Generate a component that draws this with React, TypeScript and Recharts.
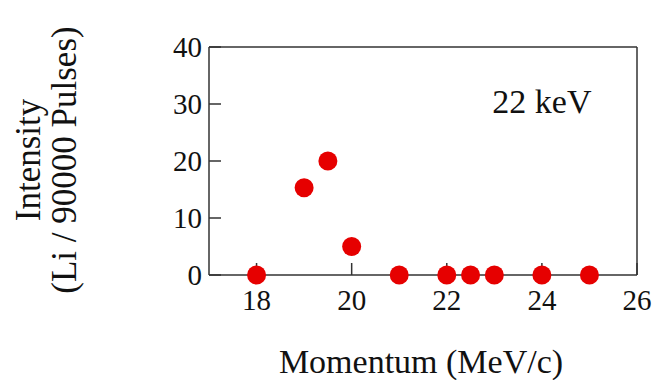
import React from "react";
import {
  ScatterChart,
  Scatter,
  XAxis,
  YAxis,
  ReferenceDot,
} from "recharts";

// momentum (MeV/c) vs intensity (Li / 90000 pulses), 22 keV run
const momentum = [18, 19, 19.5, 20, 21, 22, 22.5, 23, 24, 25];
const intensity = [0, 15.3, 20, 5, 0, 0, 0, 0, 0, 0];

const xTicks = [18, 20, 22, 24, 26];
const yTicks = [0, 10, 20, 30, 40];

const FONT = '"Liberation Serif", "Times New Roman", serif';
const AXIS = "#333";
const RED = "#e60000";

const data = momentum.map((m, i) => ({ m, v: intensity[i] }));

// inward tick marks, labels outside
const BottomTick = (p: any) => (
  <g>
    <line x1={p.x} x2={p.x} y1={p.y} y2={p.y - 12} stroke={AXIS} strokeWidth={1.5} />
    <text x={p.x} y={p.y + 35} textAnchor="middle" fontSize={29} fontFamily={FONT} fill="#111">
      {p.payload.value}
    </text>
  </g>
);

const TopTick = (p: any) => (
  <line x1={p.x} x2={p.x} y1={p.y} y2={p.y + 12} stroke={AXIS} strokeWidth={1.5} />
);

const LeftTick = (p: any) => (
  <g>
    <line x1={p.x} x2={p.x + 12} y1={p.y} y2={p.y} stroke={AXIS} strokeWidth={1.5} />
    <text
      x={p.x - 7}
      y={p.y}
      textAnchor="end"
      dominantBaseline="central"
      fontSize={29}
      fontFamily={FONT}
      fill="#111"
    >
      {p.payload.value}
    </text>
  </g>
);

const RightTick = (p: any) => (
  <line x1={p.x} x2={p.x - 12} y1={p.y} y2={p.y} stroke={AXIS} strokeWidth={1.5} />
);

export default function App() {
  return (
    <div style={{ width: 654, height: 380, background: "#fff" }}>
      <style>{`body{margin:0}`}</style>
      <ScatterChart width={654} height={380} margin={{ top: 17, right: 7, bottom: 0, left: 0 }}>
        <XAxis
          type="number"
          dataKey="m"
          domain={[17, 26]}
          ticks={xTicks}
          height={105}
          tickSize={0}
          tickMargin={0}
          tick={<BottomTick />}
          axisLine={{ stroke: AXIS, strokeWidth: 1.5 }}
          label={{
            content: () => (
              <text x={421} y={373} textAnchor="middle" fontSize={34} fontFamily={FONT} fill="#111">
                Momentum (MeV/c)
              </text>
            ),
          }}
        />
        <XAxis
          xAxisId="top"
          orientation="top"
          type="number"
          domain={[17, 26]}
          ticks={xTicks}
          height={30}
          tickSize={0}
          tickMargin={0}
          tick={<TopTick />}
          axisLine={{ stroke: AXIS, strokeWidth: 1.5 }}
        />
        <YAxis
          type="number"
          dataKey="v"
          domain={[0, 40]}
          ticks={yTicks}
          width={209}
          tickSize={0}
          tickMargin={0}
          tick={<LeftTick />}
          axisLine={{ stroke: AXIS, strokeWidth: 1.5 }}
          label={{
            content: () => (
              <text
                transform="translate(40,160) rotate(-90)"
                textAnchor="middle"
                fontSize={35}
                fontFamily={FONT}
                fill="#111"
              >
                <tspan x={0} y={0}>Intensity</tspan>
                <tspan x={0} y={36}>(Li / 90000 Pulses)</tspan>
              </text>
            ),
          }}
        />
        <YAxis
          yAxisId="right"
          orientation="right"
          type="number"
          domain={[0, 40]}
          ticks={yTicks}
          width={10}
          tickSize={0}
          tickMargin={0}
          tick={<RightTick />}
          axisLine={{ stroke: AXIS, strokeWidth: 1.5 }}
        />
        <ReferenceDot
          x={24}
          y={30}
          r={0}
          fill="none"
          stroke="none"
          label={{
            content: (p: any) => (
              <text
                x={p.viewBox.x + p.viewBox.width / 2}
                y={p.viewBox.y + p.viewBox.height / 2 + 9}
                textAnchor="middle"
                fontSize={34}
                fontFamily={FONT}
                fill="#111"
              >
                22 keV
              </text>
            ),
          }}
        />
        <Scatter
          data={data}
          isAnimationActive={false}
          zIndex={3000}
          shape={(p: any) => <circle cx={p.cx} cy={p.cy} r={9.5} fill={RED} />}
        />
      </ScatterChart>
    </div>
  );
}
